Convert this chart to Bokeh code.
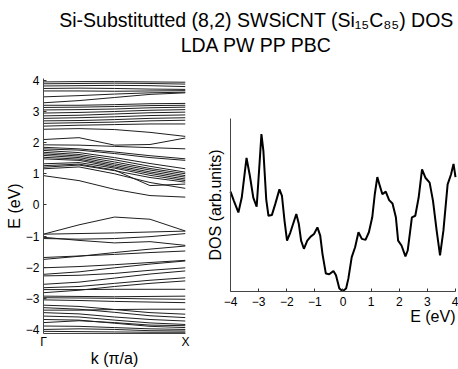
from bokeh.plotting import figure
from bokeh.layouts import column, row
from bokeh.models import FixedTicker, Range1d, Label, LinearAxis
from bokeh.embed import file_html
from bokeh.resources import INLINE
from bokeh.core.properties import value

FONT = "Liberation Sans"

title_line1 = "Si-Substitutted (8,2) SWSiCNT (Si\u2081\u2085C\u2088\u2085) DOS"
title_line2 = "LDA PW PP PBC"

# band structure: energies (eV) at k = 0, 0.25, 0.5, 0.75, 1 (Gamma -> X)
k_points = [0.0, 0.25, 0.5, 0.75, 1.0]
upper_bands = [
    [3.95, 3.96, 3.96, 3.95, 3.94],
    [3.89, 3.90, 3.91, 3.90, 3.88],
    [3.82, 3.83, 3.84, 3.83, 3.80],
    [3.74, 3.75, 3.74, 3.72, 3.71],
    [3.66, 3.66, 3.65, 3.66, 3.67],
    [3.47, 3.51, 3.56, 3.60, 3.62],
    [3.28, 3.35, 3.45, 3.55, 3.60],
    [3.20, 3.20, 3.22, 3.25, 3.26],
    [3.13, 3.14, 3.16, 3.19, 3.20],
    [3.05, 3.06, 3.08, 3.12, 3.14],
    [2.95, 2.97, 3.00, 3.04, 3.06],
    [2.86, 2.88, 2.92, 2.96, 2.98],
    [2.78, 2.80, 2.83, 2.87, 2.89],
    [2.70, 2.71, 2.74, 2.78, 2.80],
    [2.62, 2.64, 2.66, 2.70, 2.72],
    [2.53, 2.56, 2.58, 2.60, 2.60],
    [2.43, 2.45, 2.42, 2.33, 2.20],
]
conduction_bands = [
    [2.10, 2.16, 1.92, 1.94, 2.15],
    [1.93, 1.92, 1.88, 1.84, 1.80],
    [1.85, 1.80, 1.70, 1.58, 1.48],
    [1.80, 1.76, 1.65, 1.52, 1.43],
    [1.75, 1.68, 1.52, 1.33, 1.16],
    [1.69, 1.62, 1.45, 1.24, 1.05],
    [1.64, 1.57, 1.38, 1.17, 1.00],
    [1.59, 1.52, 1.32, 1.12, 0.94],
    [1.53, 1.47, 1.27, 1.06, 0.89],
    [1.48, 1.43, 1.22, 1.01, 0.83],
    [1.32, 1.36, 1.18, 0.95, 0.78],
    [1.21, 1.28, 1.10, 0.88, 0.73],
    [1.16, 1.22, 1.00, 0.72, 0.53],
    [1.26, 1.31, 1.12, 0.62, 0.67],
    [0.94, 0.78, 0.50, 0.30, 0.25],
]
valence_bands = [
    [-0.94, -0.64, -0.39, -0.46, -0.84],
    [-0.94, -0.92, -0.90, -0.87, -0.84],
    [-1.04, -1.14, -1.22, -1.18, -1.30],
    [-1.08, -1.10, -1.08, -1.02, -0.92],
    [-1.75, -1.65, -1.53, -1.42, -1.32],
    [-1.69, -1.64, -1.59, -1.53, -1.48],
    [-2.02, -1.98, -1.92, -1.85, -1.78],
    [-2.23, -2.15, -2.02, -1.90, -1.80],
    [-2.28, -2.26, -2.20, -2.10, -2.02],
    [-2.55, -2.48, -2.35, -2.22, -2.12],
    [-2.66, -2.62, -2.52, -2.42, -2.34],
    [-2.82, -2.74, -2.62, -2.52, -2.44],
    [-2.72, -2.72, -2.71, -2.71, -2.71],
    [-2.93, -2.94, -2.95, -2.94, -2.93],
    [-2.98, -2.99, -3.00, -3.02, -3.03],
    [-3.05, -3.07, -3.10, -3.12, -3.14],
    [-3.22, -3.26, -3.36, -3.46, -3.51],
    [-3.30, -3.35, -3.45, -3.56, -3.62],
    [-3.38, -3.38, -3.36, -3.35, -3.35],
    [-3.46, -3.50, -3.60, -3.68, -3.73],
    [-3.57, -3.60, -3.70, -3.79, -3.84],
    [-3.68, -3.70, -3.80, -3.90, -3.94],
    [-3.78, -3.72, -3.78, -3.86, -3.88],
    [-3.89, -3.90, -3.94, -3.98, -4.00],
    [-4.00, -3.98, -4.00, -4.04, -4.05],
    [-4.06, -4.07, -4.08, -4.09, -4.09],
]
band_ticks = [-4, -3, -2, -1, 0, 1, 2, 3, 4]
k_tick_labels = {0: "\u0393", 1: "X"}

# density of states (arbitrary units)
dos_energy = [-4.00, -3.88, -3.72, -3.60, -3.43, -3.31, -3.19, -3.07, -2.97, -2.90,
              -2.83, -2.73, -2.65, -2.53, -2.41, -2.26, -2.17, -2.08, -1.99, -1.87,
              -1.66, -1.57, -1.49, -1.39, -1.27, -1.15, -1.03, -0.91, -0.81, -0.73,
              -0.61, -0.49, -0.34, -0.25, -0.13, -0.01, 0.11, 0.19, 0.31, 0.43,
              0.55, 0.67, 0.80, 0.92, 1.04, 1.13, 1.22, 1.31, 1.40, 1.52,
              1.64, 1.76, 1.88, 1.96, 2.08, 2.22, 2.30, 2.45, 2.57, 2.69,
              2.81, 2.93, 3.08, 3.20, 3.33, 3.45, 3.57, 3.72, 3.84, 3.93, 4.00]
dos_value = [0.577, 0.524, 0.457, 0.543, 0.771, 0.667, 0.543, 0.490, 0.733, 0.909,
             0.810, 0.533, 0.438, 0.442, 0.505, 0.590, 0.552, 0.410, 0.295, 0.343,
             0.448, 0.390, 0.295, 0.248, 0.295, 0.318, 0.333, 0.371, 0.324, 0.219,
             0.105, 0.101, 0.120, 0.095, 0.019, 0.004, 0.019, 0.076, 0.200, 0.257,
             0.343, 0.305, 0.299, 0.343, 0.429, 0.562, 0.661, 0.610, 0.562, 0.577,
             0.528, 0.509, 0.429, 0.295, 0.267, 0.204, 0.238, 0.429, 0.438, 0.543,
             0.705, 0.657, 0.629, 0.524, 0.352, 0.210, 0.352, 0.619, 0.676, 0.737, 0.661]
dos_ticks = [-4, -3, -2, -1, 0, 1, 2, 3, 4]

TITLE_H = 62
ROW_H = 369 - TITLE_H
BORDER_TOP = 78 - TITLE_H
BORDER_BOTTOM = 369 - 335

# ---- title strip ----
tp = figure(width=458, height=TITLE_H, x_range=Range1d(0, 458), y_range=Range1d(0, TITLE_H),
            x_axis_type=None, y_axis_type=None, toolbar_location=None,
            output_backend="svg", min_border=0)
tp.grid.visible = False
tp.outline_line_color = None
tp.text(x=[256, 256], y=[TITLE_H - 19, TITLE_H - 44], text=[title_line1, title_line2],
        text_align="center", text_baseline="middle", text_font=value(FONT),
        text_font_size="19.5px", text_color="black")


def style_axis(ax, label_size="16px", tick_size="12px"):
    ax.axis_label_text_font = FONT
    ax.axis_label_text_font_style = "normal"
    ax.axis_label_text_font_size = label_size
    ax.axis_label_text_color = "black"
    ax.major_label_text_font = FONT
    ax.major_label_text_font_size = tick_size
    ax.major_label_text_color = "black"
    ax.minor_tick_line_color = None
    ax.major_tick_out = 0
    ax.major_tick_in = 3
    ax.major_tick_line_color = "#333333"
    ax.axis_line_color = "#444444"


# ---- band structure ----
pb = figure(width=200, height=ROW_H, x_range=Range1d(0, 1), y_range=Range1d(-4.13, 4.06),
            toolbar_location=None, output_backend="svg",
            min_border_left=43, min_border_right=15, min_border_top=BORDER_TOP,
            min_border_bottom=BORDER_BOTTOM)
pb.grid.visible = False
pb.outline_line_color = None
all_bands = upper_bands + conduction_bands + valence_bands
pb.multi_line(xs=[k_points] * len(all_bands), ys=all_bands, line_color="#1e1e1e", line_width=1)
style_axis(pb.yaxis[0])
style_axis(pb.xaxis[0])
pb.yaxis.ticker = FixedTicker(ticks=band_ticks)
pb.yaxis.axis_label = "E (eV)"
pb.yaxis.major_label_standoff = 4
pb.yaxis.axis_label_standoff = 0
pb.xaxis.ticker = FixedTicker(ticks=[0, 1])
pb.xaxis.major_label_overrides = k_tick_labels
pb.xaxis.axis_label = "k (\u03c0/a)"
pb.xaxis.major_label_standoff = 1
pb.xaxis.axis_label_standoff = -2
pb.xaxis.major_tick_in = 0

# ---- DOS ----
# frame shares top/bottom with the band panel; DOS 0..1 occupies the middle part
DOS_BOTTOM = -0.24
DOS_TOP = 1.2286
E_LEFT = -5.0667
E_RIGHT = 4.1067
pd_ = figure(width=258, height=ROW_H, x_range=Range1d(E_LEFT, E_RIGHT),
             y_range=Range1d(DOS_BOTTOM, DOS_TOP),
             x_axis_type=None, y_axis_type=None,
             toolbar_location=None, output_backend="svg",
             min_border_left=0, min_border_right=0, min_border_top=BORDER_TOP,
             min_border_bottom=BORDER_BOTTOM)
pd_.grid.visible = False
pd_.outline_line_color = None
pd_.line(x=dos_energy, y=dos_value, line_color="black", line_width=2)

xax = LinearAxis(fixed_location=0, ticker=FixedTicker(ticks=dos_ticks), bounds=(-4, 4))
style_axis(xax)
xax.major_label_standoff = 5
pd_.add_layout(xax, "below")

yax = LinearAxis(fixed_location=-4, ticker=FixedTicker(ticks=[]), bounds=(0, 1),
                 axis_label="DOS (arb.units)")
style_axis(yax)
yax.axis_label_standoff = 7
pd_.add_layout(yax, "left")

pd_.add_layout(Label(x=4, y=-0.143, text="E (eV)", text_align="right", text_baseline="middle",
                     text_font=FONT, text_font_size="16px", text_color="black"))

layout = column(tp, row(pb, pd_))
open("out.html", "w").write(file_html(layout, INLINE))
